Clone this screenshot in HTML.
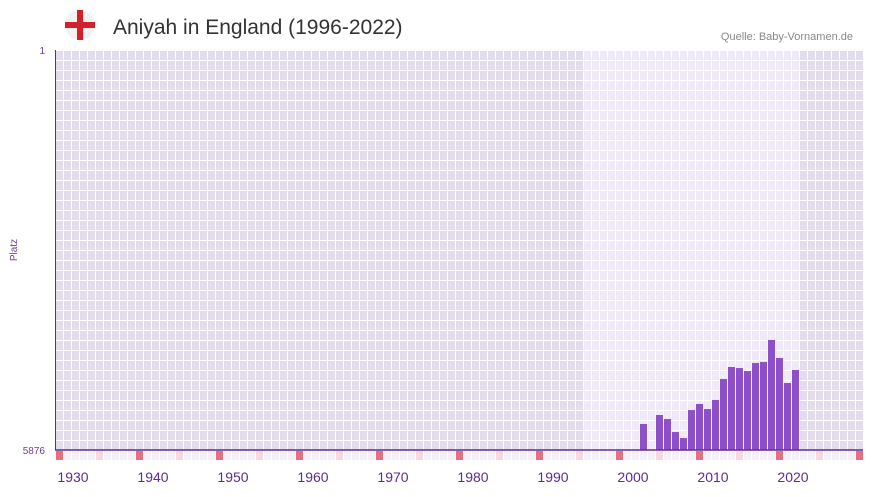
<!DOCTYPE html>
<html><head><meta charset="utf-8"><style>
body{margin:0;background:#fff;width:873px;height:492px;overflow:hidden;font-family:"Liberation Sans",sans-serif}
</style></head><body>
<svg id="c" width="873" height="492" xmlns="http://www.w3.org/2000/svg">
<g>
<circle cx="80" cy="25" r="15" fill="#f2f2f2"/>
<rect x="65" y="22" width="30" height="6" fill="#d4202a"/>
<rect x="77" y="10" width="6" height="30" fill="#d4202a"/>
</g>
<text x="113" y="34" font-size="21" fill="#333">Aniyah in England (1996-2022)</text>
<text x="853" y="40" font-size="11" fill="#888" text-anchor="end">Quelle: Baby-Vornamen.de</text>
<text x="45" y="54" font-size="10" fill="#6a3d9a" text-anchor="end">1</text>
<text x="45" y="454" font-size="10" fill="#6a3d9a" text-anchor="end">5876</text>
<text x="17" y="250" font-size="10" fill="#6a3d9a" text-anchor="middle" transform="rotate(-90 17 250)">Platz</text>
<g id="bg"></g><g id="bars"></g><g id="marks"></g><g id="xt"></g>
<line x1="55" y1="450" x2="863" y2="450" stroke="#5b2d91" stroke-width="1.5"/>
<line x1="55.5" y1="50" x2="55.5" y2="450" stroke="#5b2d91" stroke-width="1"/>
</svg>
<script>
const years=[2001,2003,2004,2005,2006,2007,2008,2009,2010,2011,2012,2013,2014,2015,2016,2017,2018,2019,2020];
const ranks=[5494,5362,5421,5612,5700,5289,5200,5274,5141,4833,4657,4672,4716,4598,4583,4260,4525,4892,4701];
const tickYears=[1930,1940,1950,1960,1970,1980,1990,2000,2010,2020];
const NS="http://www.w3.org/2000/svg";
const x=y=>59+(y-1928)*8;
const yR=r=>50+(r-1)/5875*400;
function el(t,a,p){const e=document.createElementNS(NS,t);for(const k in a)e.setAttribute(k,a[k]);document.getElementById(p).appendChild(e);return e;}
for(let yr=1928;yr<=2028;yr++){
  const light=yr>=1994&&yr<=2020;
  const col=light?"#efe9f8":"#e2dcec";
  for(let r=0;r<40;r++){el("rect",{x:x(yr)-3,y:51+r*10,width:7,height:9,fill:col},"bg");}
  const m=el("rect",{x:x(yr)-3,y:451,width:7,height:9,fill:(yr%10==8)?"#e8707e":(yr%10==3)?"#f6d8e0":"#f4f0fa"},"marks");
  
  
}
years.forEach((yr,i)=>{
  const t=yR(ranks[i]);
  const b=el("rect",{x:x(yr)-3,y:t,width:7,height:450-t,fill:"#8e50c8"},"bars");
  
  
});
tickYears.forEach(yr=>{
  const t=el("text",{x:x(yr)-2,y:482,"font-size":14,fill:"#5b2d91","text-anchor":"middle"},"xt");
  t.textContent=yr;
  
  
});
</script>
</body></html>
